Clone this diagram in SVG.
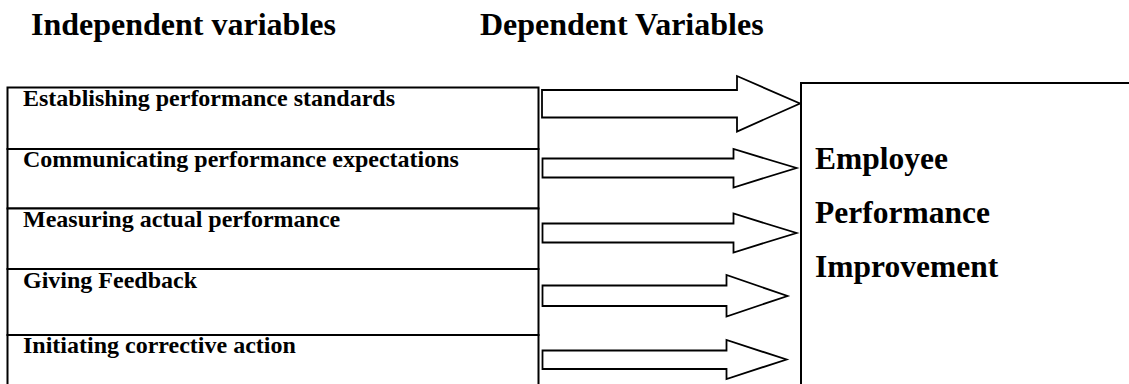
<svg xmlns="http://www.w3.org/2000/svg" width="1129" height="384" viewBox="0 0 1129 384">
  <style>
    .bg { fill: #ffffff; }
    .box { fill: #ffffff; stroke: #000000; stroke-width: 2; }
    .arrow { fill: #ffffff; stroke: #000000; stroke-width: 1.8; stroke-linejoin: miter; }
    .hdr { font-family: "Liberation Serif", "Times New Roman", serif; font-weight: bold; font-size: 32px; fill: #000000; }
    .lbl { font-family: "Liberation Serif", "Times New Roman", serif; font-weight: bold; font-size: 24px; fill: #000000; }
    .dep { font-family: "Liberation Serif", "Times New Roman", serif; font-weight: bold; font-size: 31.5px; fill: #000000; }
  </style>
  <rect class="bg" x="0" y="0" width="1129" height="384"/>

  <g id="headers">
    <text class="hdr" x="31" y="35">Independent variables</text>
    <text class="hdr" x="480" y="35">Dependent Variables</text>
  </g>

  <g id="node-establishing">
    <rect class="box" x="7.5" y="87.5" width="531" height="61.5"/>
    <text class="lbl" x="23" y="106">Establishing performance standards</text>
  </g>
  <g id="node-communicating">
    <rect class="box" x="7.5" y="149" width="531" height="59.5"/>
    <text class="lbl" x="23" y="167">Communicating performance expectations</text>
  </g>
  <g id="node-measuring">
    <rect class="box" x="7.5" y="208.5" width="531" height="60.5"/>
    <text class="lbl" x="23" y="227">Measuring actual performance</text>
  </g>
  <g id="node-feedback">
    <rect class="box" x="7.5" y="269" width="531" height="66"/>
    <text class="lbl" x="23" y="288">Giving Feedback</text>
  </g>
  <g id="node-corrective">
    <rect class="box" x="7.5" y="335" width="531" height="70"/>
    <text class="lbl" x="23" y="353">Initiating corrective action</text>
  </g>

  <g id="node-employee-performance">
    <rect class="box" x="801" y="83" width="400" height="340"/>
    <text class="dep" x="815" y="169">Employee</text>
    <text class="dep" x="815" y="223">Performance</text>
    <text class="dep" x="815" y="277">Improvement</text>
  </g>

  <g id="connectors">
    <polygon class="arrow" points="542,90 737,90 737,76 800,103.5 737,131.5 737,117.5 542,117.5"/>
    <polygon class="arrow" points="542.5,158.5 733.5,158.5 733.5,149 796.5,168 733.5,187.5 733.5,177.5 542.5,177.5"/>
    <polygon class="arrow" points="542.5,223.5 733.5,223.5 733.5,213.5 796.5,233 733.5,252.5 733.5,242.5 542.5,242.5"/>
    <polygon class="arrow" points="542.5,285.5 726.5,285.5 726.5,275 787.5,296 726.5,316.5 726.5,306 542.5,306"/>
    <polygon class="arrow" points="542.5,350.5 726.5,350.5 726.5,340 786.5,359.5 726.5,379 726.5,369 542.5,369"/>
  </g>
</svg>
